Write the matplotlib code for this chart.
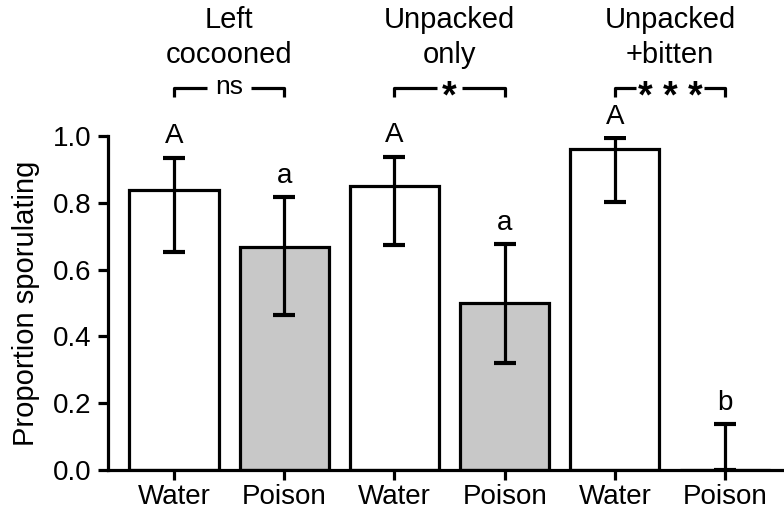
import matplotlib
matplotlib.use("Agg")
import matplotlib.pyplot as plt

plt.rcParams['font.family'] = ['Liberation Sans', 'DejaVu Sans']

# data
treatments = ["Water", "Poison", "Water", "Poison", "Water", "Poison"]
proportion = [0.838, 0.668, 0.851, 0.501, 0.961, 0.0]
err_low = [0.654, 0.464, 0.674, 0.320, 0.802, 0.0]
err_high = [0.935, 0.817, 0.938, 0.677, 0.994, 0.138]
letters = ["A", "a", "A", "a", "A", "b"]
bar_colors = ["white", "#c8c8c8", "white", "#c8c8c8", "white", "#c8c8c8"]
groups = [("Left", "cocooned"), ("Unpacked", "only"), ("Unpacked", "+bitten")]
signif = ["ns", "*", "* * *"]

fs = 20
fs_big = 21
lw = 2.3
# half-width of the gap in the bracket line around each label (x units)
half_gap = {"ns": 0.20, "*": 0.11, "* * *": 0.31}

fig = plt.figure(figsize=(7.84, 5.15), dpi=100)
ax = fig.add_axes([108 / 784, 1 - 470 / 515, 1 - 108 / 784, 334 / 515])

x = list(range(len(treatments)))
lower = [p - lo for p, lo in zip(proportion, err_low)]
upper = [hi - p for p, hi in zip(proportion, err_high)]

ax.bar(x, proportion, width=0.81, color=bar_colors, edgecolor="black",
       linewidth=lw, zorder=2)
ax.errorbar(x, proportion, yerr=[lower, upper], fmt="none", ecolor="black",
            elinewidth=lw, capsize=8, capthick=lw * 1.3, zorder=3)

for xi, hi, lab in zip(x, err_high, letters):
    ax.text(xi, hi + 0.043, lab, ha="center", va="baseline", fontsize=fs)

# group headings and brackets
for g, ((l1, l2), sig) in enumerate(zip(groups, signif)):
    x0, x1 = 2 * g, 2 * g + 1
    xm = (x0 + x1) / 2
    hg = half_gap[sig]
    ax.text(xm, 1.322, l1, ha="center", va="baseline", fontsize=fs_big, clip_on=False)
    ax.text(xm, 1.219, l2, ha="center", va="baseline", fontsize=fs_big, clip_on=False)
    ax.plot([x0, x0, xm - hg], [1.117, 1.144, 1.144], color="black",
            lw=lw, clip_on=False, solid_capstyle="butt")
    ax.plot([xm + hg, x1, x1], [1.144, 1.144, 1.117], color="black",
            lw=lw, clip_on=False, solid_capstyle="butt")
    if sig == "ns":
        ax.text(xm, 1.127, sig, ha="center", va="baseline", fontsize=19,
                clip_on=False)
    else:
        ax.text(xm, 1.085, sig, ha="center", va="baseline", fontsize=27,
                fontweight="bold", clip_on=False)

ax.set_xlim(-0.6, 5.535)
ax.set_ylim(0, 1.0)
ax.set_xticks(x)
ax.set_xticklabels(treatments, fontsize=fs)
ax.set_yticks([0.0, 0.2, 0.4, 0.6, 0.8, 1.0])
ax.set_yticklabels(["0.0", "0.2", "0.4", "0.6", "0.8", "1.0"], fontsize=fs)
ax.set_ylabel("Proportion sporulating", fontsize=fs_big)
ax.yaxis.set_label_coords(-0.10, 0.5)

ax.spines["top"].set_visible(False)
ax.spines["right"].set_visible(False)
ax.spines["left"].set_linewidth(lw)
ax.spines["bottom"].set_linewidth(lw)
ax.tick_params(axis="both", direction="out", length=7, width=lw)
ax.tick_params(axis="y", pad=5)
ax.tick_params(axis="x", pad=3)

fig.savefig("out.png", dpi=100)
